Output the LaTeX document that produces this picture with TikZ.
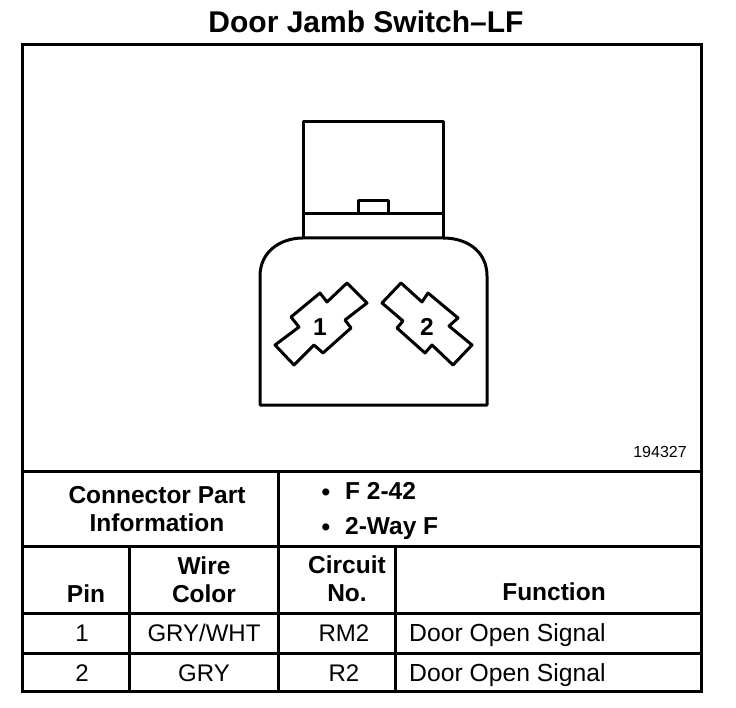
\documentclass[tikz,border=0pt]{standalone}
\usepackage{fontspec}
\setmainfont{Liberation Sans}

\tikzset{
    rule/.style={line width=3pt, line cap=rect, line join=miter},
    outline/.style={line width=3pt, line join=round},
    head/.style={font=\fontsize{24.5}{28}\selectfont\bfseries, align=center, inner sep=0pt},
    cell/.style={font=\fontsize{24}{28}\selectfont, inner sep=0pt}
}

\begin{document}
\begin{tikzpicture}[x=1pt, y=-1pt]
        \useasboundingbox (0, 0) rectangle (736, 708);

        % frame and table
        \node[name=title, font=\fontsize{30}{34}\selectfont\bfseries, inner sep=0pt] at (366, 22) {Door Jamb Switch--LF};
        \draw[rule] (22, 45) rectangle (701, 691);
        \foreach \y in {471, 546, 613, 653}
            {
                \draw[rule] (22, \y) -- (701, \y);
            }
        \draw[rule] (278, 471) -- (278, 691);
        \foreach \x in {129, 395}
            {
                \draw[rule] (\x, 546) -- (\x, 691);
            }

        % connector body
        \draw[outline] (303, 238) -- (303, 122) -- (443, 122) -- (443, 238);
        \draw[outline] (303, 214) -- (443, 214);
        \draw[outline] (358, 214) -- (358, 201) -- (388, 201) -- (388, 214);
        \draw[outline] (260, 405) -- (260, 276) .. controls (260, 252) and (280, 238) .. (303, 238) -- (443, 238) .. controls (468, 238) and (487, 252) .. (487, 276) -- (487, 405) -- cycle;

        % terminals
        \draw[outline] (347, 283) -- (367, 303) -- (345, 320) -- (351, 328) -- (323, 353) -- (314, 345) -- (294, 365) -- (275, 345) -- (299, 327) -- (291, 317) -- (320, 293) -- (327, 302) -- cycle;
        \draw[outline] (401, 283) -- (382, 303) -- (403, 321) -- (397, 328) -- (425, 353) -- (432, 345) -- (453, 365) -- (472, 345) -- (449, 326) -- (458, 318) -- (428, 293) -- (422, 302) -- cycle;
        \node[name=pin_a, head] at (320, 327) {1};
        \node[name=pin_b, head] at (427, 327) {2};

        \node[name=partno, font=\fontsize{16}{18}\selectfont, inner sep=0pt] at (660, 452) {194327};

        % connector information
        \node[name=info, head] at (157, 509) {Connector Part\\Information};
        \node[name=bullet_a, head] at (326, 495) {•};
        \node[name=part_a, head, anchor=base west] at (345, 499) {F 2-42};
        \node[name=bullet_b, head] at (326, 530) {•};
        \node[name=part_b, head, anchor=base west] at (345, 534) {2-Way F};

        % column heads
        \node[name=pin, head, anchor=base] at (86, 602) {Pin};
        \node[name=wire, head] at (204, 580) {Wire\\Color};
        \node[name=circuit, head] at (347, 579) {Circuit\\No.};
        \node[name=function, head, anchor=base] at (554, 600) {Function};

        % rows
        \foreach \y/\n/\c/\r in {641/1/GRY\slash WHT/RM2, 681/2/GRY/R2}
            {
                \node[name=n_\n, cell, anchor=base] at (82, \y) {\n};
                \node[name=c_\n, cell, anchor=base] at (204, \y) {\c};
                \node[name=r_\n, cell, anchor=base] at (344, \y) {\r};
                \node[name=f_\n, cell, anchor=base west] at (409, \y) {\fontsize{24.7}{28}\selectfont Door Open Signal};
            }
    \end{tikzpicture}
\end{document}
